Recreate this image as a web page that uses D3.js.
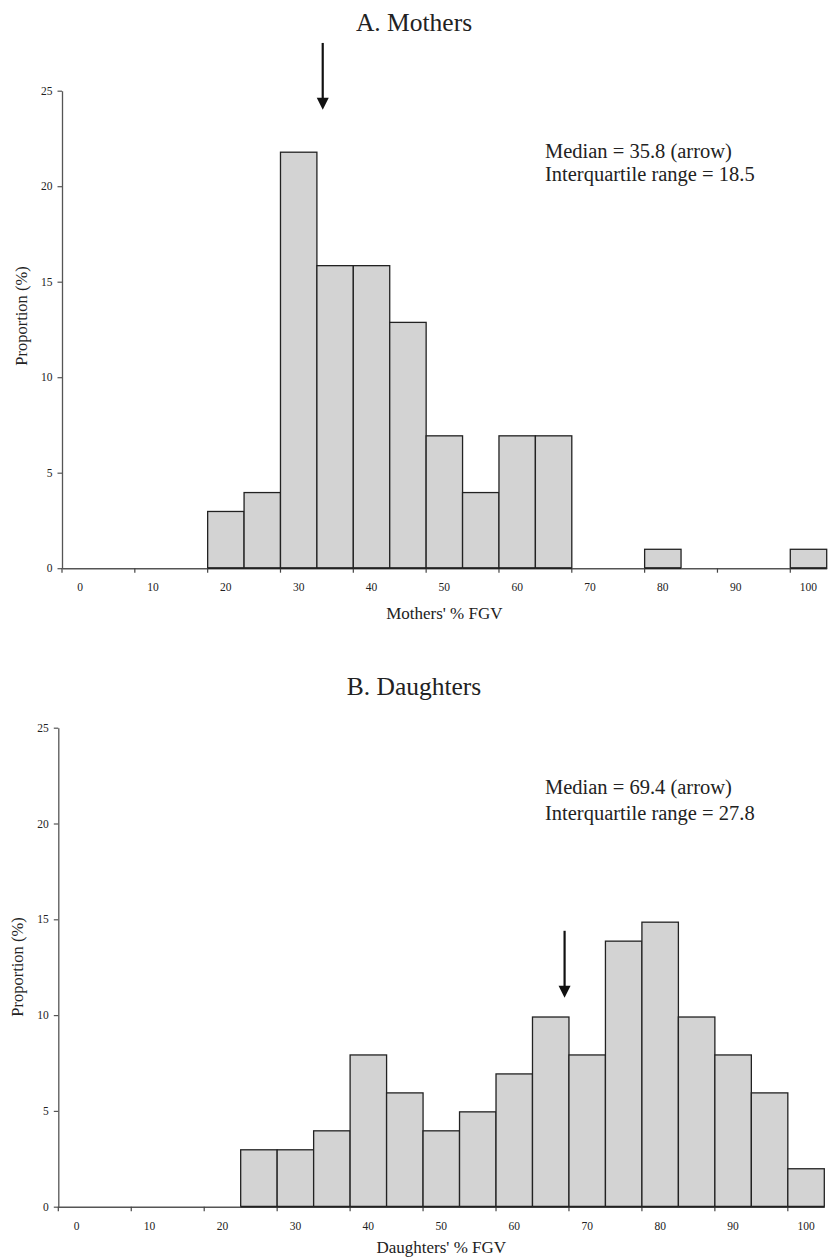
<!DOCTYPE html>
<html>
<head>
<meta charset="utf-8">
<script src="https://cdn.jsdelivr.net/npm/d3@7"></script>
<style>
  body { margin: 0; background: #fff; }
  svg text { font-family: "Liberation Serif", "Times New Roman", serif; fill: #222; }
</style>
</head>
<body>
<div id="chart"></div>
<script>
// bins of 5 points of % FGV, labelled by lower bound
const categories = ["0", "5", "10", "15", "20", "25", "30", "35", "40", "45", "50",
  "55", "60", "65", "70", "75", "80", "85", "90", "95", "100"];
const labelledCategories = ["0", "10", "20", "30", "40", "50", "60", "70", "80", "90", "100"];
const yTicks = [0, 5, 10, 15, 20, 25];

const mothersValues = [0, 0, 0, 0, 2.97, 3.96, 21.78, 15.84, 15.84, 12.87, 6.93,
  3.96, 6.93, 6.93, 0, 0, 0.99, 0, 0, 0, 0.99];
const daughtersValues = [0, 0, 0, 0, 0, 2.97, 2.97, 3.96, 7.92, 5.94, 3.96,
  4.95, 6.93, 9.9, 7.92, 13.86, 14.85, 9.9, 7.92, 5.94, 1.98];

const titles = ["A. Mothers", "B. Daughters"];
const xLabels = ["Mothers' % FGV", "Daughters' % FGV"];
const medians = [35.8, 69.4];
const arrowSpans = [[27.5, 24.0], [14.4, 10.9]]; // y values of arrow top and tip
const statLines = [
  ["Median = 35.8 (arrow)", "Interquartile range = 18.5"],
  ["Median = 69.4 (arrow)", "Interquartile range = 27.8"]
];

const W = 828, H = 1259;
const svg = d3.select("#chart").append("svg")
  .attr("width", W)
  .attr("height", H);

const panels = [
  { values: mothersValues, left: 62, right: 826.7, top: 90.7, bottom: 568.2,
    titleY: 31, yLabelX: 22, yLabelY: 316, statY: [158, 181], xLabelDy: 50.5 },
  { values: daughtersValues, left: 58.3, right: 824.3, top: 727.7, bottom: 1206.7,
    titleY: 695, yLabelX: 18, yLabelY: 967, statY: [794, 820], xLabelDy: 46.5 }
];

panels.forEach((p, i) => {
  const width = p.right - p.left;
  const height = p.bottom - p.top;
  const g = svg.append("g").attr("transform", `translate(${p.left},${p.top})`);

  const x = d3.scaleBand().domain(categories).range([0, width]).padding(0);
  const bw = x.bandwidth();
  // continuous scale for the median arrow (bin lower edges)
  const xv = d3.scaleLinear().domain([0, 105]).range([0, width]);
  const y = d3.scaleLinear().domain([0, 25]).range([height, 0]);

  const data = categories.map((c, k) => ({ cat: c, value: p.values[k] }))
    .filter(d => d.value > 0);

  // bars
  g.selectAll(".bar")
    .data(data)
    .join("rect")
    .attr("class", "bar")
    .attr("x", d => x(d.cat))
    .attr("y", d => y(d.value))
    .attr("width", bw)
    .attr("height", d => y(0) - y(d.value))
    .attr("fill", "#d3d3d3")
    .attr("stroke", "#222")
    .attr("stroke-width", 1.3);

  // y axis
  const yAxis = g.append("g")
    .call(d3.axisLeft(y).tickValues(yTicks).tickSize(4.5).tickSizeOuter(0).tickPadding(5));
  yAxis.select(".domain").attr("stroke", "#555").attr("stroke-width", 1.3);
  yAxis.selectAll(".tick line").attr("stroke", "#555").attr("stroke-width", 1.2);
  yAxis.selectAll(".tick text").style("font-size", "11.5px");

  // x axis: labels centred in every other bin, ticks at bin edges
  const xAxis = g.append("g")
    .attr("transform", `translate(0,${height})`)
    .call(d3.axisBottom(x).tickValues(labelledCategories).tickSize(4.5).tickSizeOuter(0).tickPadding(10.5));
  xAxis.select(".domain").attr("stroke", "#555").attr("stroke-width", 1.5);
  xAxis.selectAll(".tick line")
    .attr("x1", -bw / 2).attr("x2", -bw / 2)
    .attr("stroke", "#444").attr("stroke-width", 1.2);
  xAxis.selectAll(".tick text").style("font-size", "11.5px");

  // bar bottoms drawn darker over the axis
  g.selectAll(".base")
    .data(data)
    .join("line")
    .attr("class", "base")
    .attr("x1", d => x(d.cat))
    .attr("x2", d => x(d.cat) + bw)
    .attr("y1", y(0)).attr("y2", y(0))
    .attr("stroke", "#222")
    .attr("stroke-width", 1.8);

  // median arrow
  const ax = xv(medians[i]);
  const yTop = y(arrowSpans[i][0]);
  const yTip = y(arrowSpans[i][1]);
  const head = 12;
  g.append("line")
    .attr("x1", ax).attr("x2", ax)
    .attr("y1", yTop).attr("y2", yTip - head + 1)
    .attr("stroke", "#111")
    .attr("stroke-width", 2.2);
  g.append("path")
    .attr("d", `M${ax - 6},${yTip - head}L${ax + 6},${yTip - head}L${ax},${yTip}Z`)
    .attr("fill", "#111");

  // stats text
  statLines[i].forEach((t, k) => {
    svg.append("text")
      .attr("x", 545)
      .attr("y", p.statY[k])
      .style("font-size", "20.5px")
      .text(t);
  });

  // panel title
  svg.append("text")
    .attr("x", W / 2)
    .attr("y", p.titleY)
    .attr("text-anchor", "middle")
    .style("font-size", "25.5px")
    .text(titles[i]);

  // axis titles
  svg.append("text")
    .attr("x", p.left + width / 2)
    .attr("y", p.bottom + p.xLabelDy)
    .attr("text-anchor", "middle")
    .style("font-size", "17px")
    .text(xLabels[i]);

  svg.append("text")
    .attr("transform", `translate(${p.yLabelX + 5},${p.yLabelY}) rotate(-90)`)
    .attr("text-anchor", "middle")
    .style("font-size", "16.5px")
    .text("Proportion (%)");
});
</script>
</body>
</html>
